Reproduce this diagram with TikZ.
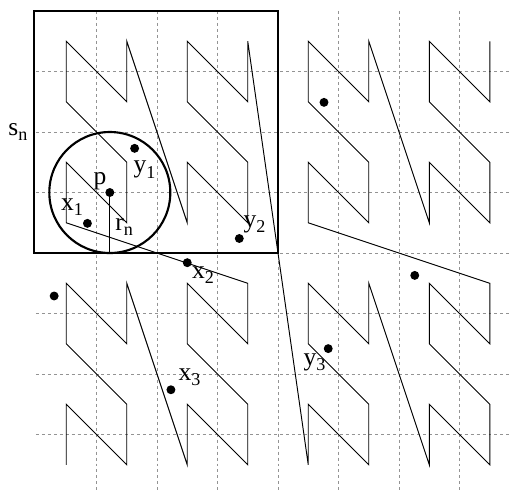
\documentclass[tikz,border=0pt]{standalone}
\usepackage{fontspec}
\setmainfont{Liberation Serif}

% letter with a lowered index, as in s_n
\newcommand{\lbl}[2]{#1\raisebox{-2.6pt}{\fontsize{8.5}{8.5}\selectfont #2}}

\begin{document}
\begin{tikzpicture}[
    % Define styles for reusable components
    gridline/.style={gray!85, line width=0.45pt, dash pattern=on 1.4pt off 1.4pt},
    curve/.style={black, line width=0.45pt},
    frame/.style={black, line width=1pt},
    point/.style={circle, fill=black, inner sep=0pt, minimum size=4.2pt},
    tag/.style={anchor=base west, inner sep=0pt, font=\fontsize{12}{14}\selectfont}
]
    \useasboundingbox (-0.595, 0.05) rectangle (7.851, 8.182);

    % --- GRID ---
    \foreach \k in {1,...,7} {
        \draw[gridline] (\k, 8) -- (\k, 0.05);
        \draw[gridline] (0, \k) -- (7.851, \k);
    }

    % --- N-ORDER CURVE ---
    % Cell number i -> (x,y): even bits give y, odd bits give x
    \draw[curve] (0.5, 0.5)
        \foreach \i [evaluate={\i as \cx using mod(floor(\i/2),2) + 2*mod(floor(\i/8),2) + 4*mod(floor(\i/32),2) + 0.5},
                     evaluate={\i as \cy using mod(\i,2) + 2*mod(floor(\i/4),2) + 4*mod(floor(\i/16),2) + 0.5}]
        in {1,...,63} { -- (\cx, \cy) };

    % --- SQUARE s_n AND BALL ---
    \draw[frame] (-0.04, 4) rectangle (4, 8);
    \node[point] (p) at (1.22, 5.0) {};
    \draw[frame] (p.center) circle (1);
    \draw[curve] (p.center) -- ++(0, -1);

    % --- POINTS ---
    \node[point] (x1) at (0.85, 4.49) {};
    \node[point] (y1) at (1.63, 5.73) {};
    \node[point] (y2) at (3.36, 4.24) {};
    \node[point] (x2) at (2.50, 3.84) {};
    \node[point] (x3) at (2.23, 1.74) {};
    \node[point] (y3) at (4.83, 2.42) {};
    \node[point] (q1) at (4.76, 6.49) {};
    \node[point] (q2) at (0.30, 3.29) {};
    \node[point] (q3) at (6.26, 3.63) {};

    % --- LABELS ---
    \node[tag] (sn lbl) at (-0.463, 5.95) {\lbl{s}{n}};
    \node[tag] (p lbl)  at (0.947, 5.14) {p};
    \node[tag] (rn lbl) at (1.306, 4.38) {\lbl{r}{n}};
    \node[tag] (x1 lbl) at (0.408, 4.71) {\lbl{x}{1}};
    \node[tag] (y1 lbl) at (1.608, 5.327) {\lbl{y}{1}};
    \node[tag] (y2 lbl) at (3.426, 4.425) {\lbl{y}{2}};
    \node[tag] (x2 lbl) at (2.574, 3.582) {\lbl{x}{2}};
    \node[tag] (x3 lbl) at (2.352, 1.901) {\lbl{x}{3}};
    \node[tag] (y3 lbl) at (4.418, 2.149) {\lbl{y}{3}};

\end{tikzpicture}
\end{document}
